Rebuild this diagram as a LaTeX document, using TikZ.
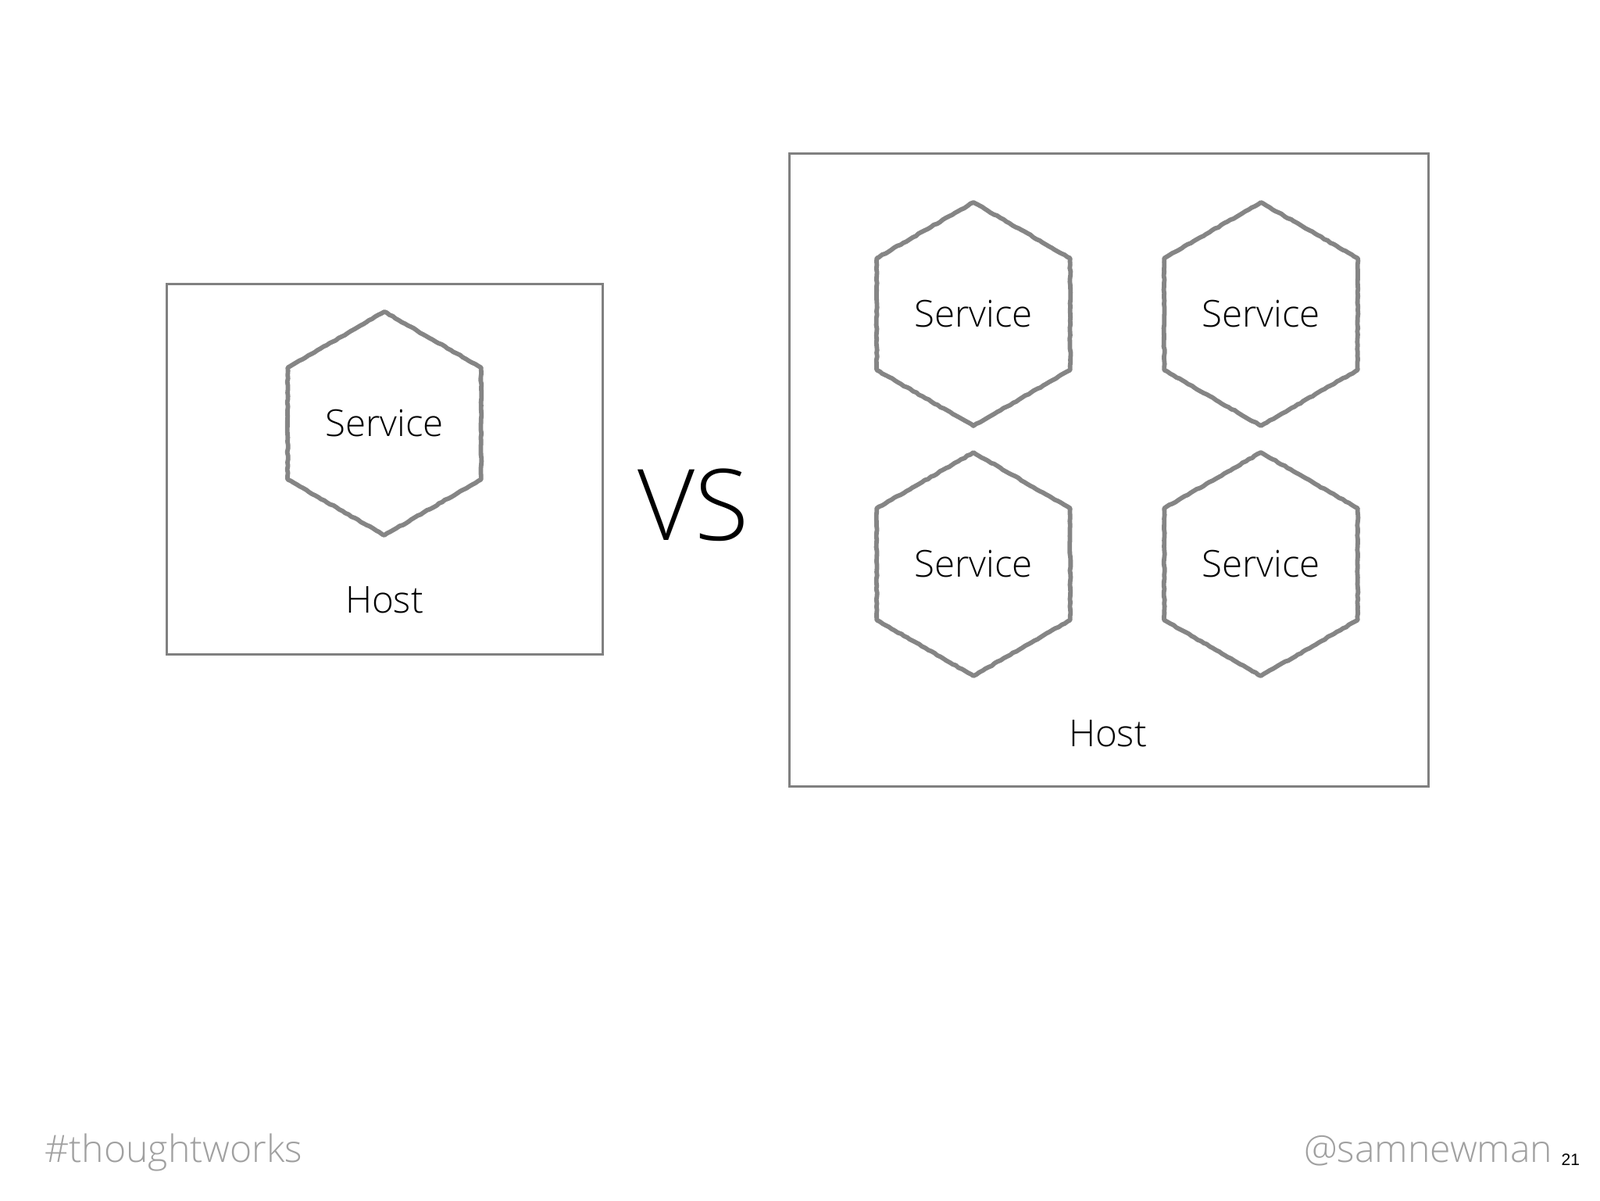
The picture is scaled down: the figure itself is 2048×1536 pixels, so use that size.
\documentclass[tikz,border=0pt]{standalone}
\usepackage{fontspec}
\setmainfont{Open Sans Light}
\newfontfamily\pagefont{Liberation Sans}
\usetikzlibrary{shapes.geometric,decorations.pathmorphing}
\definecolor{chalk}{HTML}{858585}
\definecolor{boxgray}{HTML}{808080}
\definecolor{footgray}{HTML}{A0A0A0}
\begin{document}
\begin{tikzpicture}[x=0.1mm,y=-0.1mm,
  hexnode/.style={regular polygon,regular polygon sides=6,shape border rotate=30,
    minimum size=28.6mm,inner sep=0pt,draw=chalk,line width=0.58mm,line join=round,
    decorate,decoration={random steps,segment length=0.45mm,amplitude=0.06mm},
    font=\fontsize{13.5}{16}\selectfont},
  hostbox/.style={draw=boxgray,line width=0.3mm},
  hostlabel/.style={font=\fontsize{13.5}{16}\selectfont},
  footer/.style={text=footgray,font=\fontsize{13.7}{16}\selectfont,inner sep=0pt}]
\useasboundingbox (0,0) rectangle (2048,1536);
% one service on one host
\draw[hostbox] (213,363) rectangle (771,837);
\node[hexnode] (s0) at (492,542) {Service};
\node[hostlabel] (h0) at (492,768) {Host};
\node[font=\fontsize{36}{40}\selectfont] (vs) at (887,646) {VS};
% many services on one host
\draw[hostbox] (1010,196) rectangle (1828,1006);
\node[hexnode] (s1) at (1246,402) {Service};
\node[hexnode] (s2) at (1614,402) {Service};
\node[hexnode] (s3) at (1246,722) {Service};
\node[hexnode] (s4) at (1614,722) {Service};
\node[hostlabel] (h1) at (1418,939) {Host};
% footer
\node[footer,anchor=base west] (tag) at (57,1487) {\#thoughtworks};
\node[footer,anchor=base east] (who) at (1988,1487) {@samnewman};
\node[anchor=base west,inner sep=0pt,font=\pagefont\fontsize{6}{8}\selectfont] (page) at (1998,1491) {21};
\end{tikzpicture}
\end{document}
